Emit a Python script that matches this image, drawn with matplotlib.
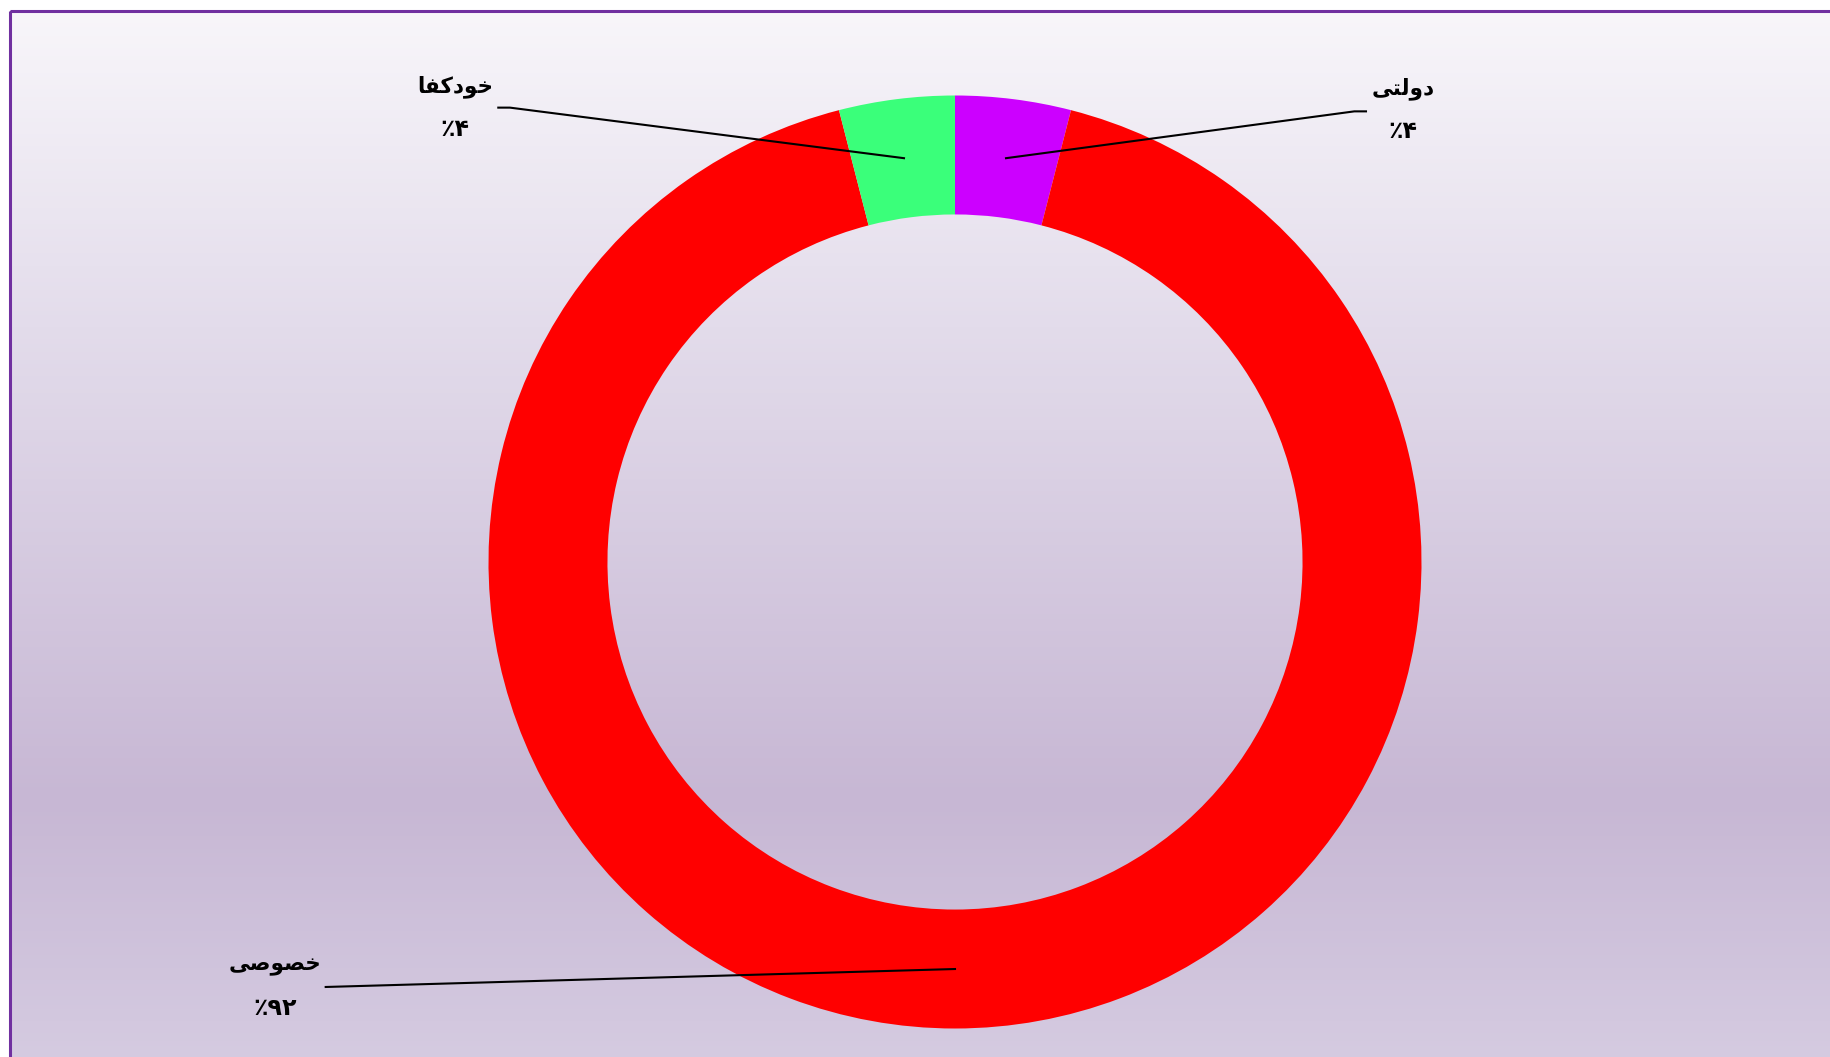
import numpy as np
import matplotlib.pyplot as plt
from matplotlib.colors import LinearSegmentedColormap
from matplotlib.patches import Rectangle

# Persian labels written as shaped presentation forms in visual (left-to-right) order,
# since matplotlib has no Arabic shaping / bidi
labels = ["\uFBFD\uFE98\uFEDF\uFEED\uFEA9",          # دولتی
          "\uFBFD\uFEBB\uFEEE\uFEBC\uFEA7",          # خصوصی
          "\uFE8E\uFED4\uFB90\uFEA9\uFEEE\uFEA7"]    # خودکفا
values = [4, 92, 4]
pct_labels = ["\u066A\u06F4", "\u066A\u06F9\u06F2", "\u066A\u06F4"]  # ٪۴ ٪۹۲ ٪۴
colors = ["#CC00FF", "#FF0000", "#3AFF7A"]

# where each label block sits (data units, outer radius = 1)
label_xy = [(0.961, 0.97), (-1.457, -0.91), (-1.071, 0.975)]
elbow_xy = [(0.856, 0.966), (-1.349, -0.911), (-0.954, 0.974)]
elbow_end = [0.881, -1.349, -0.979]

W, H = 1831, 1057
fig = plt.figure(figsize=(W / 100, H / 100), dpi=100)

# gradient background
bg = fig.add_axes([0, 0, 1, 1])
bg.set_xlim(0, W)
bg.set_ylim(H, 0)
bg.axis("off")
cmap = LinearSegmentedColormap.from_list(
    "bg", [(0, "#F8F6FA"), (0.3, "#E3DCEB"), (0.75, "#C7B7D4"), (1.0, "#D5CBE1")])
grad = np.linspace(0, 1, 256).reshape(-1, 1)
bg.imshow(grad, cmap=cmap, aspect="auto", extent=(10, W + 5, H + 5, 11), zorder=0)
bg.add_patch(Rectangle((10, 11), W, H, fill=False, edgecolor="#7030A0", lw=2.2, zorder=1))

ax = fig.add_axes([0, 0, 1, 1])
ax.set_facecolor("none")
r_px = 466.5
cx, cy = 955, 495
wedges, _ = ax.pie(values, colors=colors, startangle=90, counterclock=False,
                   radius=1, wedgeprops=dict(width=0.255, linewidth=0))
ax.set_xlim(-cx / r_px, (W - cx) / r_px)
ax.set_ylim(-cy / r_px, (H - cy) / r_px)
ax.set_aspect("equal")
ax.axis("off")

font = ["DejaVu Sans"]
for w, lab, pct, (lx, ly), (ex, ey), ee in zip(wedges, labels, pct_labels,
                                               label_xy, elbow_xy, elbow_end):
    ang = np.deg2rad((w.theta1 + w.theta2) / 2)
    rm = 1 - 0.255 / 2
    px, py = rm * np.cos(ang), rm * np.sin(ang)
    ax.plot([px, ex, ee], [py, ey, ey], color="black", lw=1.5, zorder=5)
    ax.text(lx, ly + 0.045, lab, ha="center", va="center", fontsize=15.5,
            fontweight="bold", family=font, zorder=6)
    ax.text(lx, ly - 0.047, pct, ha="center", va="center", fontsize=17,
            fontweight="bold", family=font, zorder=6)

fig.savefig("out.png", dpi=100)
